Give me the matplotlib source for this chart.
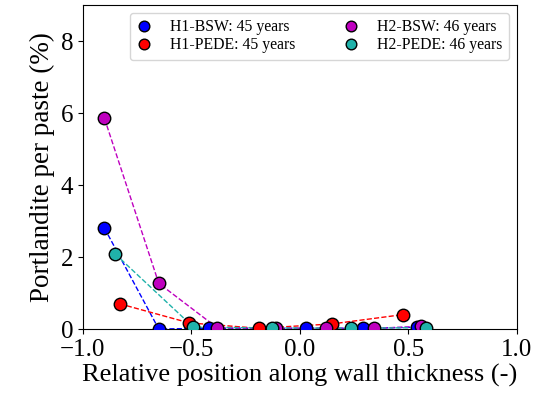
import matplotlib
matplotlib.use('Agg')
import matplotlib.pyplot as plt

# data
h1_bsw_x = [-0.90, -0.65, -0.42, 0.03, 0.29, 0.54]
h1_bsw_y = [2.80, 0.00, 0.02, 0.02, 0.02, 0.05]

h1_pede_x = [-0.83, -0.51, -0.19, 0.147, 0.475]
h1_pede_y = [0.70, 0.17, 0.02, 0.14, 0.40]

h2_bsw_x = [-0.90, -0.65, -0.38, -0.11, 0.12, 0.34, 0.56]
h2_bsw_y = [5.85, 1.27, 0.03, 0.02, 0.02, 0.02, 0.07]

h2_pede_x = [-0.85, -0.49, -0.13, 0.235, 0.58]
h2_pede_y = [2.08, 0.05, 0.03, 0.02, 0.04]

labels = ['H1-BSW: 45 years', 'H1-PEDE: 45 years', 'H2-BSW: 46 years', 'H2-PEDE: 46 years']
cols = ['#0000ff', '#ff0000', '#bf00bf', '#20b2aa']

plt.rcParams['font.family'] = ['Liberation Serif', 'DejaVu Serif']

fig = plt.figure(figsize=(5.34, 4.0), dpi=100)
ax = fig.add_axes([0.155, 0.1775, 0.813, 0.81])

series = [(h1_bsw_x, h1_bsw_y), (h1_pede_x, h1_pede_y),
          (h2_bsw_x, h2_bsw_y), (h2_pede_x, h2_pede_y)]
for (x, y), lab, c in zip(series, labels, cols):
    ax.plot(x, y, '--', color=c, linewidth=1.0, zorder=2)
    ax.plot(x, y, 'o', color=c, markeredgecolor='k', markersize=9,
            linestyle='none', label=lab, zorder=3)

ax.set_xlim(-1, 1)
ax.set_ylim(0, 9)
ax.set_xticks([-1.0, -0.5, 0.0, 0.5, 1.0])
ax.set_yticks([0, 2, 4, 6, 8])
ax.tick_params(labelsize=18)
ax.set_xlabel('Relative position along wall thickness (-)', fontsize=19, labelpad=2)
ax.set_ylabel('Portlandite per paste (%)', fontsize=19.5, labelpad=4)

ax.legend(loc='upper right', ncol=2, fontsize=11.3, handletextpad=1.2,
          columnspacing=3.0, handlelength=1.0, labelspacing=0.15,
          markerscale=0.85, borderaxespad=0.5)

plt.savefig('out.png', dpi=100)
